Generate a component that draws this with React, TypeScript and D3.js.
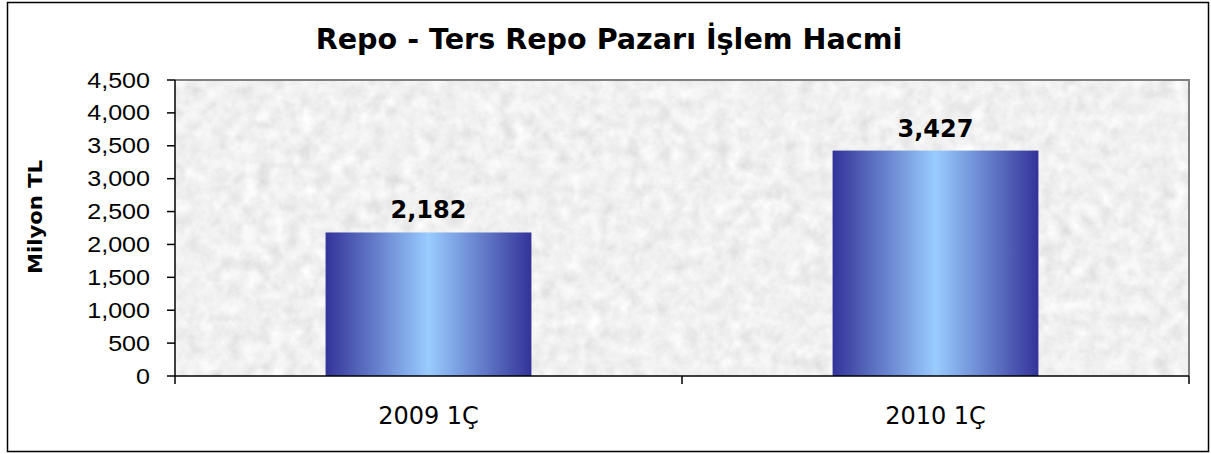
import React from "react";
import * as d3 from "d3";

const categories = ["2009 1Ç", "2010 1Ç"];
const values = [2182, 3427];
const yTicks = [0, 500, 1000, 1500, 2000, 2500, 3000, 3500, 4000, 4500];
const title = "Repo - Ters Repo Pazarı İşlem Hacmi";
const yTitle = "Milyon TL";

const W = 1211;
const H = 454;
const plot = { left: 175, right: 1189, top: 80, bottom: 376 };

export default function App() {
  const x = d3
    .scaleBand<string>()
    .domain(categories)
    .range([plot.left, plot.right])
    .paddingInner(0.594)
    .paddingOuter(0.297);
  const band = d3.scaleBand<string>().domain(categories).range([plot.left, plot.right]);
  const y = d3.scaleLinear().domain([0, 4500]).range([plot.bottom, plot.top]);
  const fmt = d3.format(",");

  return (
    <svg
      width={W}
      height={H}
      style={{ position: "absolute", left: 0, top: 0, background: "#fff" }}
    >
      <defs>
        <linearGradient id="barGrad" x1="0" x2="1" y1="0" y2="0">
          <stop offset="0" stopColor="#333399" />
          <stop offset="0.5" stopColor="#99CCFF" />
          <stop offset="1" stopColor="#333399" />
        </linearGradient>
        <filter id="granite" x="0" y="0" width="100%" height="100%">
          <feTurbulence type="fractalNoise" baseFrequency="0.07" numOctaves="4" seed="7" result="n" />
          <feComponentTransfer in="n" result="g">
            <feFuncR type="linear" slope="0.55" intercept="0.6" />
            <feFuncG type="linear" slope="0.55" intercept="0.6" />
            <feFuncB type="linear" slope="0.55" intercept="0.6" />
            <feFuncA type="linear" slope="0" intercept="1" />
          </feComponentTransfer>
          <feColorMatrix
            in="g"
            type="matrix"
            values="0.34 0.33 0.33 0 0  0.34 0.33 0.33 0 0  0.34 0.33 0.33 0 0  0 0 0 1 0"
          />
        </filter>
      </defs>

      {/* outer frame */}
      <rect x={7.5} y={2.5} width={1201} height={449} fill="#fff" stroke="#000" strokeWidth={1.5} />

      {/* title */}
      <text
        x={609}
        y={49}
        textAnchor="middle"
        fontFamily="'DejaVu Sans', Verdana, sans-serif"
        fontWeight="bold"
        fontSize={28.6}
        fill="#000"
      >
        {title}
      </text>

      {/* plot background */}
      <rect
        x={plot.left}
        y={plot.top}
        width={plot.right - plot.left}
        height={plot.bottom - plot.top}
        fill="#e6e6e6"
        filter="url(#granite)"
      />
      {/* top & right borders */}
      <path
        d={`M${plot.left},${plot.top}H${plot.right}V${plot.bottom}`}
        fill="none"
        stroke="#808080"
        strokeWidth={2}
      />

      {/* bars */}
      {categories.map((c, i) => (
        <rect
          key={c}
          x={x(c)}
          y={y(values[i])}
          width={x.bandwidth()}
          height={plot.bottom - y(values[i])}
          fill="url(#barGrad)"
        />
      ))}

      {/* value labels */}
      {categories.map((c, i) => (
        <text
          key={c}
          x={(x(c) as number) + x.bandwidth() / 2}
          y={y(values[i]) - 14}
          textAnchor="middle"
          fontFamily="'DejaVu Sans', Verdana, sans-serif"
          fontWeight="bold"
          fontSize={24}
          fill="#000"
        >
          {fmt(values[i])}
        </text>
      ))}

      {/* y axis */}
      <line x1={plot.left} x2={plot.left} y1={plot.top} y2={plot.bottom} stroke="#000" strokeWidth={1.5} />
      {yTicks.map((t) => (
        <g key={t}>
          <line x1={plot.left - 8} x2={plot.left} y1={y(t)} y2={y(t)} stroke="#000" strokeWidth={1.5} />
          <text
            transform={`translate(150,${y(t) + 7.5}) scale(1.14,1)`}
            textAnchor="end"
            fontFamily="'Liberation Sans', Arial, sans-serif"
            fontSize={22}
            fill="#000"
          >
            {fmt(t)}
          </text>
        </g>
      ))}

      {/* x axis */}
      <line x1={plot.left} x2={plot.right} y1={plot.bottom} y2={plot.bottom} stroke="#000" strokeWidth={1.5} />
      {[...categories.map((c) => band(c) as number), plot.right].map((px, i) => (
        <line key={i} x1={px} x2={px} y1={plot.bottom} y2={plot.bottom + 8} stroke="#000" strokeWidth={1.5} />
      ))}
      {categories.map((c) => (
        <text
          key={c}
          x={(band(c) as number) + band.bandwidth() / 2}
          y={424}
          textAnchor="middle"
          fontFamily="'DejaVu Sans', Tahoma, sans-serif"
          fontSize={24}
          fill="#000"
        >
          {c}
        </text>
      ))}

      {/* y title */}
      <text
        transform={`translate(42,217) rotate(-90)`}
        textAnchor="middle"
        fontFamily="'DejaVu Sans', Verdana, sans-serif"
        fontWeight="bold"
        fontSize={20}
        textLength={114}
        lengthAdjust="spacingAndGlyphs"
        fill="#000"
      >
        {yTitle}
      </text>
    </svg>
  );
}
